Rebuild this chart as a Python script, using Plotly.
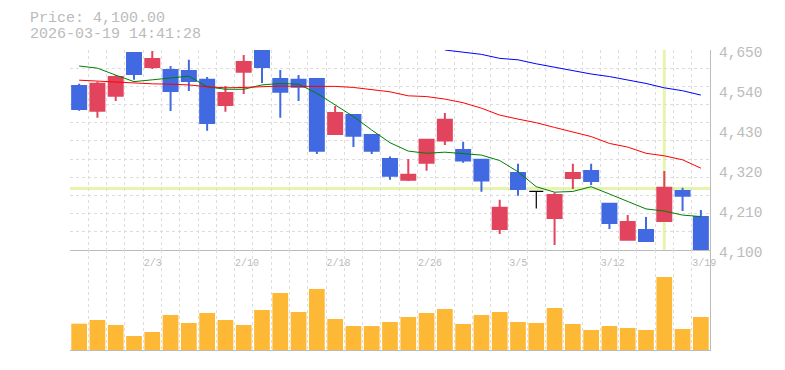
import plotly.graph_objects as go

# ---------------- data ----------------
dates = ["1/28", "1/29", "1/30", "2/2", "2/3", "2/4", "2/5", "2/6", "2/9", "2/10",
         "2/12", "2/13", "2/16", "2/17", "2/18", "2/19", "2/20", "2/24", "2/25", "2/26",
         "2/27", "3/2", "3/3", "3/4", "3/5", "3/6", "3/9", "3/10", "3/11", "3/12",
         "3/13", "3/16", "3/17", "3/18", "3/19"]

open_ = [4551, 4483, 4524, 4642, 4603, 4595, 4592, 4568, 4499, 4590,
         4648, 4570, 4568, 4570, 4419, 4471, 4416, 4350, 4293, 4340,
         4401, 4375, 4348, 4158, 4312, 4261, 4188, 4298, 4317, 4227,
         4128, 4155, 4180, 4262, 4191]
high = [4557, 4563, 4581, 4642, 4647, 4606, 4623, 4576, 4551, 4636,
        4648, 4595, 4581, 4571, 4496, 4472, 4417, 4357, 4350, 4403,
        4477, 4398, 4348, 4238, 4337, 4261, 4258, 4337, 4337, 4227,
        4196, 4191, 4317, 4271, 4210]
low = [4483, 4464, 4510, 4568, 4598, 4482, 4537, 4428, 4480, 4529,
       4559, 4464, 4510, 4364, 4419, 4383, 4364, 4293, 4290, 4318,
       4389, 4340, 4260, 4144, 4249, 4214, 4114, 4268, 4279, 4158,
       4128, 4125, 4180, 4207, 4100]
close = [4488, 4557, 4576, 4584, 4625, 4537, 4565, 4449, 4532, 4617,
         4603, 4535, 4549, 4373, 4477, 4414, 4373, 4304, 4307, 4403,
         4458, 4346, 4291, 4216, 4268, 4261, 4251, 4312, 4290, 4174,
         4177, 4125, 4271, 4249, 4100]

ma_short = [4606, 4600, 4581, 4563, 4568, 4574, 4578, 4549, 4542, 4542,
            4554, 4558, 4556, 4531, 4499, 4467, 4430, 4395, 4372, 4366,
            4369, 4366, 4361, 4346, 4315, 4274, 4259, 4261, 4274, 4254,
            4233, 4213, 4207, 4196, 4192]
ma_mid = [4567, 4564, 4562, 4558, 4557, 4556, 4554, 4549, 4546, 4547,
          4550, 4551, 4550, 4550, 4550, 4547, 4542, 4535, 4524, 4522,
          4515, 4505, 4490, 4471, 4460, 4450, 4437, 4425, 4412, 4393,
          4383, 4366, 4359, 4348, 4325]
ma_long = [None] * 20 + [4650, 4645, 4638, 4627, 4623, 4612, 4602, 4593, 4584, 4577,
                         4568, 4558, 4546, 4538, 4526]

volume = [26300, 30000, 25000, 14000, 18000, 35000, 27000, 37000, 30000, 25000,
          40000, 57000, 38000, 61000, 31000, 24000, 24000, 28000, 33000, 37000,
          41000, 26000, 35000, 38000, 28000, 27000, 42000, 26000, 20000, 24000,
          22000, 20000, 73000, 21000, 33000]

price_ticks = [4100, 4210, 4320, 4430, 4540, 4650]
label_every = 5
label_start = 4
crosshair_idx = 32
crosshair_price = 4269
timestamp = "2026-03-19 14:41:28"

# ---------------- styles ----------------
MONO = "Liberation Mono, DejaVu Sans Mono, monospace"
TXT = "#bbbbbb"
GRID = "#dddddd"
AXL = "#bbbbbb"
UP = "#e2445e"
DOWN = "#4169e1"
PAGE_PAD = 8  # default body margin of the html page

idx = list(range(len(dates)))
nd = [i for i in idx if open_[i] != close[i]]
dj = [i for i in idx if open_[i] == close[i]]

fig = go.Figure()

fig.add_trace(go.Candlestick(
    x=[idx[i] for i in nd], open=[open_[i] for i in nd], high=[high[i] for i in nd],
    low=[low[i] for i in nd], close=[close[i] for i in nd],
    increasing=dict(line=dict(color=UP, width=2), fillcolor=UP),
    decreasing=dict(line=dict(color=DOWN, width=2), fillcolor=DOWN),
    whiskerwidth=0, xaxis="x", yaxis="y", showlegend=False, hoverinfo="skip"))
fig.add_trace(go.Candlestick(
    x=[idx[i] for i in dj], open=[open_[i] for i in dj], high=[high[i] for i in dj],
    low=[low[i] for i in dj], close=[close[i] for i in dj],
    increasing=dict(line=dict(color="black", width=1.2), fillcolor="black"),
    decreasing=dict(line=dict(color="black", width=1.2), fillcolor="black"),
    whiskerwidth=0, xaxis="x", yaxis="y", showlegend=False, hoverinfo="skip"))

fig.add_trace(go.Scatter(x=idx, y=ma_short, mode="lines", line=dict(color="#008000", width=1),
                         xaxis="x", yaxis="y", showlegend=False, hoverinfo="skip"))
fig.add_trace(go.Scatter(x=idx, y=ma_mid, mode="lines", line=dict(color="#ff0000", width=1),
                         xaxis="x", yaxis="y", showlegend=False, hoverinfo="skip"))
fig.add_trace(go.Scatter(x=idx, y=ma_long, mode="lines", line=dict(color="#0000ff", width=1),
                         xaxis="x", yaxis="y3", showlegend=False, hoverinfo="skip"))

fig.add_trace(go.Bar(x=idx, y=volume, marker=dict(color="#fdb935", line=dict(width=0)),
                     xaxis="x2", yaxis="y2", showlegend=False, hoverinfo="skip"))

xr = [-0.5, len(dates) - 0.5]
tickvals = [i - 0.5 for i in idx[label_start::label_every]]
ticktext = dates[label_start::label_every]
yr = [price_ticks[0], price_ticks[-1]]

grid = dict(showgrid=True, gridcolor=GRID, griddash="3px,3px", gridwidth=1)

fig.update_layout(
    width=785 - PAGE_PAD, height=370 - PAGE_PAD,
    margin=dict(l=70 - PAGE_PAD, r=75, t=50 - PAGE_PAD, b=20, autoexpand=False),
    paper_bgcolor="white", plot_bgcolor="white",
    boxgap=0.235, boxgroupgap=0, bargap=0.14,
    xaxis=dict(domain=[0, 1], range=xr, anchor="y", tickmode="array",
               tickvals=tickvals, ticktext=ticktext, ticklabelposition="outside right",
               ticks="", tickfont=dict(family=MONO, size=10, color=TXT),
               ticklabelstandoff=3,
               showline=True, linecolor=AXL, linewidth=1, zeroline=False,
               minor=dict(tick0=-0.5, dtick=1, showgrid=True, gridcolor=GRID,
                          griddash="3px,3px", ticks=""),
               rangeslider=dict(visible=False), **grid),
    yaxis=dict(domain=[1 / 3, 1], range=yr, anchor="x", side="right",
               tick0=price_ticks[0], dtick=50, showticklabels=False, ticks="",
               showline=True, linecolor=AXL, linewidth=1, zeroline=False, **grid),
    yaxis3=dict(overlaying="y", range=yr, anchor="x", side="right",
                tickmode="array", tickvals=price_ticks, tickformat=",", ticks="",
                tickfont=dict(family=MONO, size=14.5, color=TXT),
                ticklabelstandoff=8, ticklabelshift=2,
                showgrid=False, zeroline=False, showline=False),
    xaxis2=dict(domain=[0, 1], range=xr, anchor="y2", tick0=-0.5, dtick=1,
                showticklabels=False, ticks="", showline=True, linecolor=AXL,
                linewidth=1, zeroline=False, **grid),
    yaxis2=dict(domain=[0, 1 / 3], range=[0, 100000], anchor="x2", side="right",
                showticklabels=False, ticks="", showgrid=False, zeroline=False,
                showline=True, linecolor=AXL, linewidth=1),
    shapes=[
        dict(type="line", xref="x", yref="y", x0=crosshair_idx, x1=crosshair_idx,
             y0=yr[0], y1=yr[1], line=dict(color="#e6f5ae", width=3), layer="below"),
        dict(type="line", xref="x domain", yref="y", x0=0, x1=1,
             y0=crosshair_price, y1=crosshair_price,
             line=dict(color="#e6f5ae", width=3), layer="below"),
    ],
    annotations=[
        dict(text=f"Price: {close[-1]:,.2f}", xref="paper", yref="paper", x=0, y=1,
             xanchor="left", yanchor="middle", xshift=-42, yshift=32, showarrow=False,
             font=dict(family=MONO, size=15, color=TXT)),
        dict(text=timestamp, xref="paper", yref="paper", x=0, y=1,
             xanchor="left", yanchor="middle", xshift=-42, yshift=16, showarrow=False,
             font=dict(family=MONO, size=15, color=TXT)),
    ],
)

fig.write_html("out.html")
